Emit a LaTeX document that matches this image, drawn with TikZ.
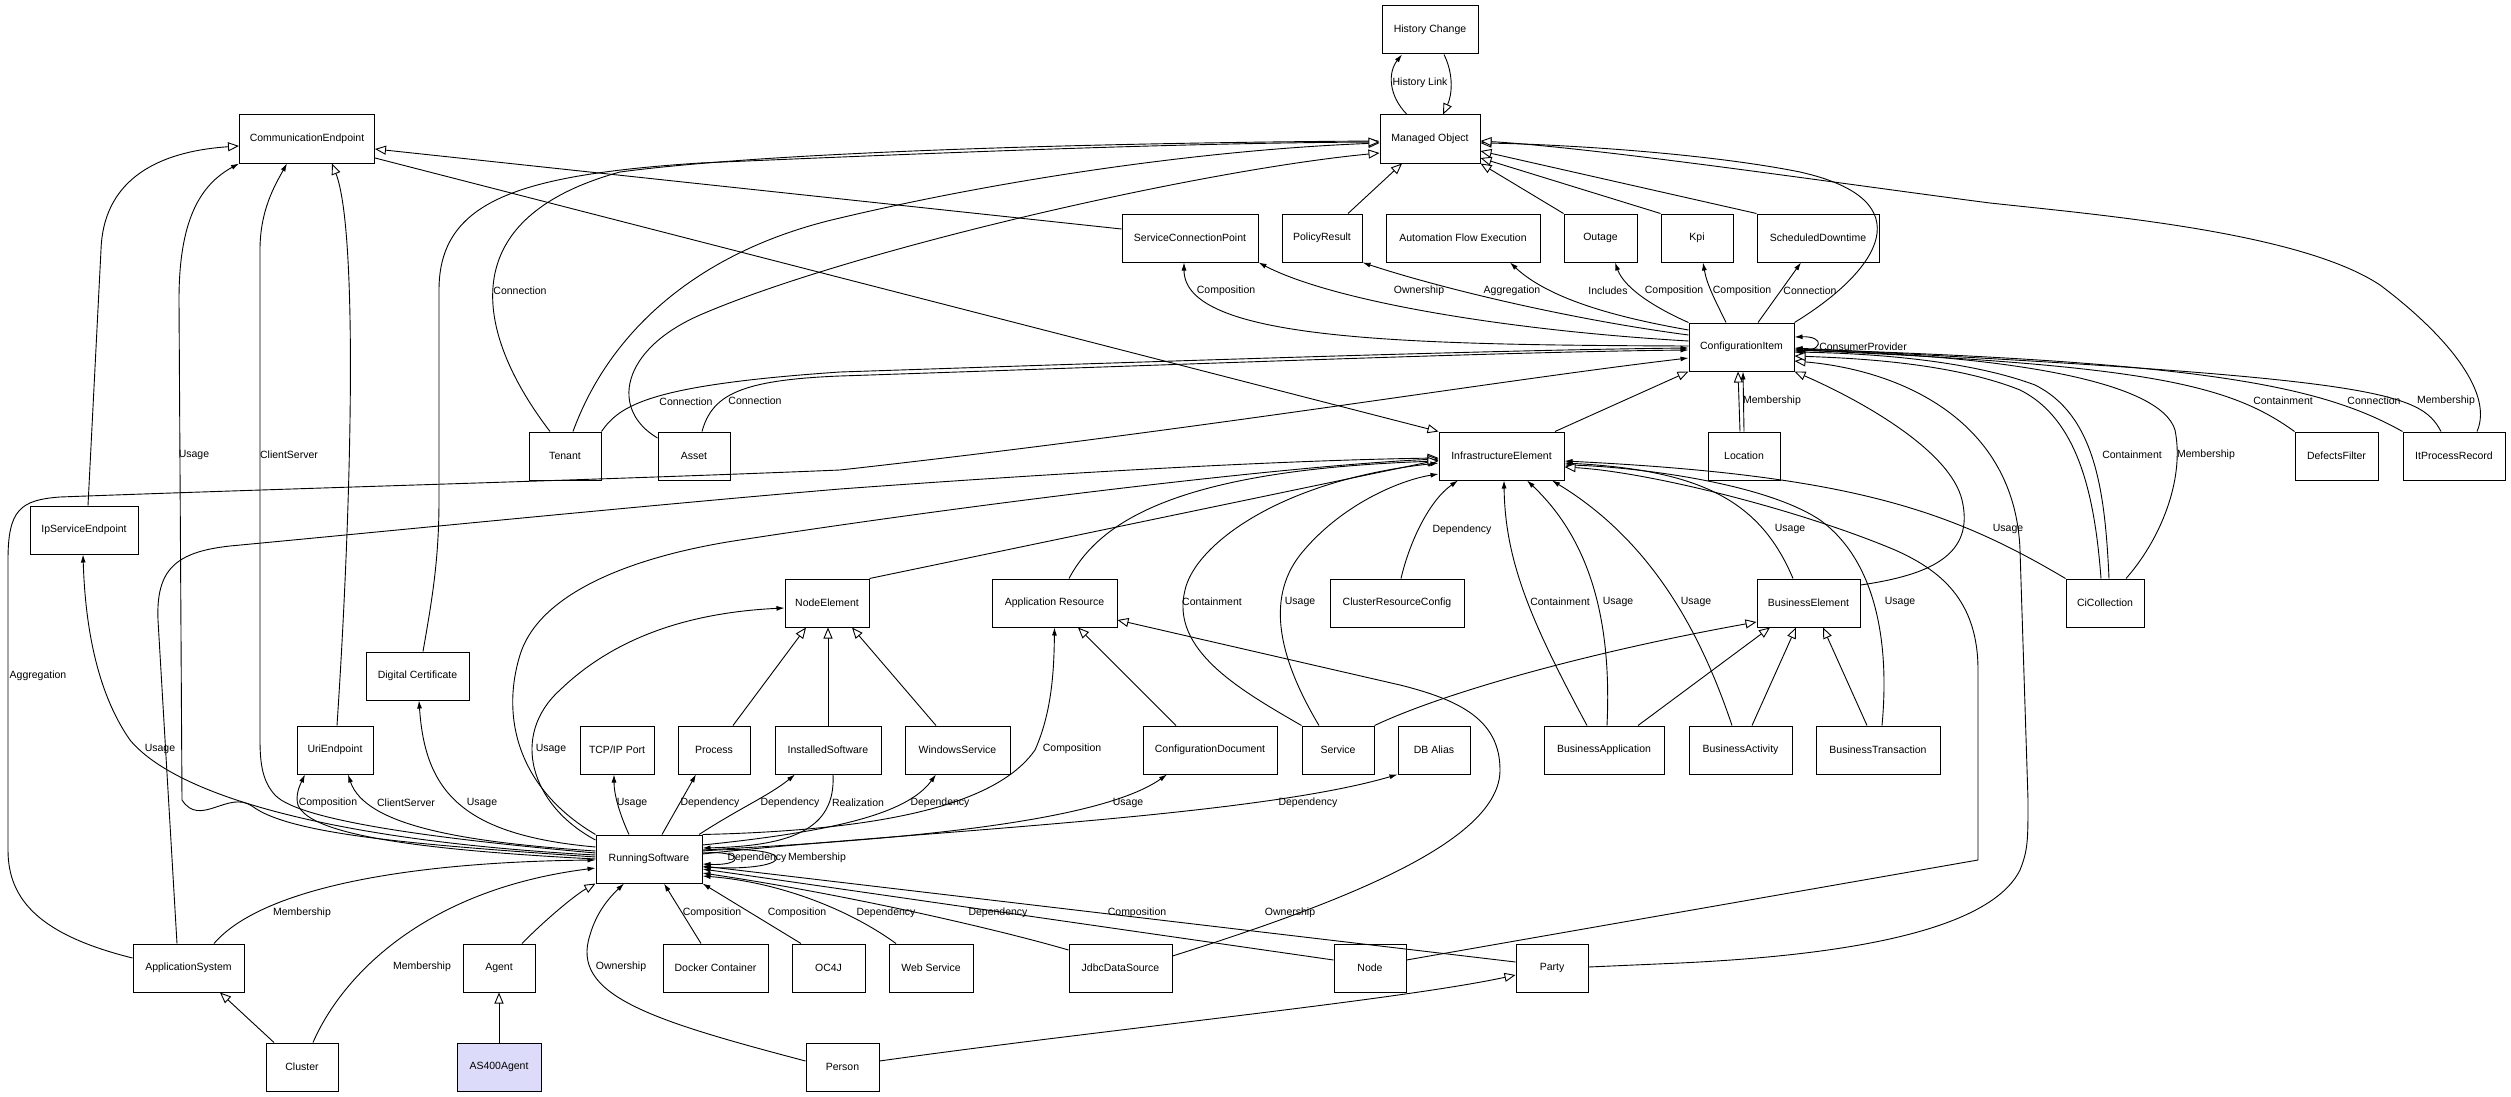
\documentclass[tikz,border=0pt]{standalone}
\usepackage{fontspec}
\setmainfont{Liberation Sans}
\usetikzlibrary{arrows.meta}
\definecolor{lav}{RGB}{220,220,250}
\newcommand\dgfont{\fontsize{10.5}{12}\selectfont}
\begin{document}
\begin{tikzpicture}[x=1pt,y=-1pt,
  box/.style={draw,line width=1pt,minimum height=48pt,inner sep=0pt,font=\dgfont,fill=white},
  isa/.style={line width=0.9pt,-{Triangle[fill=white,length=11pt,width=9pt]}},
  assoc/.style={line width=0.9pt,-{Latex[length=8pt,width=5pt]}},
  lbl/.style={font=\dgfont,inner sep=0pt}]
\useasboundingbox (0,0) rectangle (2511,1097);
\fill[white] (0,0) rectangle (2511,1097);
% nodes
\node[box,minimum width=96pt] (hc) at (1430,30) {History Change};
\node[box,minimum width=100pt] (mo) at (1430,139) {Managed Object};
\node[box,minimum width=135pt] (ce) at (307,139) {CommunicationEndpoint};
\node[box,minimum width=136pt] (scp) at (1190,238) {ServiceConnectionPoint};
\node[box,minimum width=80pt] (pr) at (1322,238) {PolicyResult};
\node[box,minimum width=154pt] (afe) at (1463,238) {Automation Flow Execution};
\node[box,minimum width=73pt] (out) at (1600.5,238) {Outage};
\node[box,minimum width=72pt] (kpi) at (1697,238) {Kpi};
\node[box,minimum width=122pt] (sd) at (1818,238) {ScheduledDowntime};
\node[box,minimum width=105pt] (ci) at (1741.5,347) {ConfigurationItem};
\node[box,minimum width=72pt] (ten) at (565,456) {Tenant};
\node[box,minimum width=72pt] (ast) at (694,456) {Asset};
\node[box,minimum width=125pt] (ie) at (1501.5,456) {InfrastructureElement};
\node[box,minimum width=72pt] (loc) at (1744,456) {Location};
\node[box,minimum width=83pt] (df) at (2336.5,456) {DefectsFilter};
\node[box,minimum width=102pt] (ipr) at (2454,456) {ItProcessRecord};
\node[box,minimum width=108pt] (ipse) at (84,530) {IpServiceEndpoint};
\node[box,minimum width=84pt] (ne) at (827,603) {NodeElement};
\node[box,minimum width=125pt] (ar) at (1054.5,603) {Application Resource};
\node[box,minimum width=134pt] (crc) at (1397,603) {ClusterResourceConfig};
\node[box,minimum width=103pt] (be) at (1808.5,603) {BusinessElement};
\node[box,minimum width=78pt] (cic) at (2105,603) {CiCollection};
\node[box,minimum width=103pt] (dc) at (417.5,676) {Digital Certificate};
\node[box,minimum width=76pt] (uri) at (335,750) {UriEndpoint};
\node[box,minimum width=74pt] (tcp) at (617,750) {TCP/IP Port};
\node[box,minimum width=72pt] (proc) at (714,750) {Process};
\node[box,minimum width=106pt] (is) at (828,750) {InstalledSoftware};
\node[box,minimum width=105pt] (ws) at (957.5,750) {WindowsService};
\node[box,minimum width=134pt] (cd) at (1210,750) {ConfigurationDocument};
\node[box,minimum width=72pt] (svc) at (1338,750) {Service};
\node[box,minimum width=72pt] (dba) at (1434,750) {DB Alias};
\node[box,minimum width=120pt] (ba) at (1604,750) {BusinessApplication};
\node[box,minimum width=103pt] (bact) at (1740.5,750) {BusinessActivity};
\node[box,minimum width=124pt] (bt) at (1878,750) {BusinessTransaction};
\node[box,minimum width=106pt] (rs) at (649,859) {RunningSoftware};
\node[box,minimum width=111pt] (as) at (188.5,968) {ApplicationSystem};
\node[box,minimum width=72pt] (agent) at (499,968) {Agent};
\node[box,minimum width=105pt] (dock) at (715.5,968) {Docker Container};
\node[box,minimum width=73pt] (oc4j) at (828.5,968) {OC4J};
\node[box,minimum width=84pt] (wsv) at (931,968) {Web Service};
\node[box,minimum width=103pt] (jdbc) at (1120.5,968) {JdbcDataSource};
\node[box,minimum width=72pt] (node) at (1370,968) {Node};
\node[box,minimum width=72pt] (party) at (1552,968) {Party};
\node[box,minimum width=72pt] (cl) at (302,1067) {Cluster};
\node[box,minimum width=84pt,fill=lav] (as4) at (499,1067) {AS400Agent};
\node[box,minimum width=73pt] (per) at (842.5,1067) {Person};
% History
\draw[assoc] (mo.north -| 1407,0) .. controls (1388,95) and (1388,72) .. (hc.south -| 1402,0);
\draw[isa] (hc.south -| 1444,0) .. controls (1454,75) and (1452,95) .. (mo.north -| 1443,0);
% into Managed Object
\draw[isa] (pr.north -| 1348,0) -- (mo.south -| 1402,0);
\draw[isa] (out.north west) -- (mo.south east);
\draw[isa] (kpi.north west) -- (mo.east |- 0,158);
\draw[isa] (sd.north west) -- (mo.east |- 0,151);
\draw[isa] (ci.north east) .. controls (1880,270) and (1925,200) .. (1800,172) .. controls (1700,152) and (1550,144) .. (mo.east |- 0,143);
\draw[isa] (ipr.north -| 2477,0) .. controls (2495,390) and (2440,330) .. (2380,285) .. controls (2300,232) and (2100,215) .. (1990,203) .. controls (1850,185) and (1600,148) .. (mo.east |- 0,141);
\draw[isa] (ten.north -| 573,0) .. controls (610,330) and (700,250) .. (840,218) .. controls (1000,180) and (1200,150) .. (mo.west |- 0,143);
\draw[assoc] (ten.north -| 550,0) .. controls (480,340) and (445,220) .. (620,172) .. controls (800,148) and (1200,142) .. (mo.west |- 0,141);
\draw[isa] (ast.west |- 0,438) .. controls (610,410) and (620,350) .. (700,315) .. controls (850,250) and (1200,170) .. (mo.west |- 0,153);
\draw[isa] (dc.north -| 423,0) .. controls (432,600) and (439,560) .. (439,500) -- (439,290) .. controls (439,200) and (520,175) .. (700,163) .. controls (1000,150) and (1200,143) .. (mo.west |- 0,142);
% CommunicationEndpoint
\draw[isa] (ipse.north -| 88,0) -- (101,250) .. controls (103,185) and (150,152) .. (ce.west |- 0,146);
\draw[isa] (scp.west |- 0,229) -- (ce.east |- 0,149);
\draw[isa] (ce.east |- 0,158) -- (ie.north west);
\draw[assoc] (rs.west |- 0,857) .. controls (420,845) and (290,835) .. (252,806) .. controls (228,790) and (200,828) .. (182,800) -- (179,300) .. controls (179,220) and (200,185) .. (ce.south west);
\draw[assoc] (rs.west |- 0,853) .. controls (450,840) and (300,822) .. (275,795) .. controls (263,782) and (260,765) .. (260,740) -- (260,250) .. controls (260,210) and (275,185) .. (ce.south -| 287,0);
\draw[isa] (uri.north -| 337,0) .. controls (352,500) and (358,230) .. (ce.south -| 332,0);
% CI to top row
\draw[assoc] (ci.west |- 0,346) .. controls (1400,345) and (1184,340) .. (scp.south -| 1184,0);
\draw[assoc] (ci.west |- 0,341) .. controls (1500,330) and (1330,300) .. (scp.south east);
\draw[assoc] (ci.west |- 0,335) .. controls (1560,318) and (1430,285) .. (pr.south east);
\draw[assoc] (ci.west |- 0,330) .. controls (1620,318) and (1550,300) .. (afe.south -| 1510,0);
\draw[assoc] (ci.north west) .. controls (1660,310) and (1625,290) .. (out.south -| 1615,0);
\draw[assoc] (ci.north -| 1726,0) .. controls (1715,300) and (1707,285) .. (kpi.south -| 1703,0);
\draw[assoc] (ci.north -| 1758,0) -- (sd.south -| 1801,0);
\draw[assoc] (ci.east |- 0,352) .. controls (1825,352) and (1825,336) .. (ci.east |- 0,337);
% into CI
\draw[assoc] (ten.north east) .. controls (620,405) and (650,385) .. (840,372) .. controls (1200,360) and (1500,350) .. (ci.west |- 0,348);
\draw[assoc] (ast.north -| 702,0) .. controls (712,395) and (740,380) .. (840,376) .. controls (1200,364) and (1500,352) .. (ci.west |- 0,350);
\draw[assoc] (as.west |- 0,958) .. controls (40,935) and (8,900) .. (8,850) -- (8,560) .. controls (8,510) and (20,500) .. (60,497) .. controls (300,488) and (600,480) .. (840,470) .. controls (1200,430) and (1500,380) .. (ci.west |- 0,358);
\draw[isa] (ie.north -| 1555,0) -- (ci.south west);
\draw[isa] (loc.north -| 1740,0) -- (ci.south -| 1738,0);
\draw[assoc] (loc.north -| 1744,0) -- (ci.south -| 1743,0);
\draw[isa] (be.east |- 0,585) .. controls (1930,575) and (1975,555) .. (1962,500) .. controls (1950,450) and (1860,400) .. (ci.south east);
\draw[isa] (party.east |- 0,967) -- (1680,963) .. controls (1850,955) and (1990,930) .. (2020,870) .. controls (2028,850) and (2028,840) .. (2028,800) -- (2020,550) .. controls (2015,420) and (1900,370) .. (ci.east |- 0,361);
\draw[isa] (cic.north -| 2101,0) .. controls (2095,500) and (2080,420) .. (2020,390) .. controls (1950,362) and (1850,358) .. (ci.east |- 0,356);
\draw[assoc] (cic.north -| 2109,0) .. controls (2105,490) and (2095,415) .. (2035,385) .. controls (1960,357) and (1850,353) .. (ci.east |- 0,352);
\draw[assoc] (cic.north -| 2126,0) .. controls (2160,540) and (2185,480) .. (2175,430) .. controls (2160,380) and (2000,355) .. (ci.east |- 0,350);
\draw[assoc] (df.north west) .. controls (2230,385) and (2150,365) .. (ci.east |- 0,350);
\draw[assoc] (ipr.north west) .. controls (2320,385) and (2200,362) .. (ci.east |- 0,349);
\draw[assoc] (ipr.north -| 2441,0) .. controls (2420,392) and (2380,378) .. (ci.east |- 0,348);
% into InfrastructureElement
\draw[isa] (as.north -| 177,0) -- (158,620) .. controls (156,570) and (175,552) .. (230,546) .. controls (400,530) and (650,505) .. (840,489) .. controls (1100,470) and (1300,460) .. (ie.west |- 0,458);
\draw[isa] (rs.north west) .. controls (520,790) and (500,720) .. (520,655) .. controls (540,590) and (640,555) .. (740,540) .. controls (1000,500) and (1300,465) .. (ie.west |- 0,459);
\draw[isa] (ne.north east) -- (ie.west |- 0,460);
\draw[isa] (ar.north -| 1069,0) .. controls (1100,520) and (1180,470) .. (ie.west |- 0,461);
\draw[assoc] (svc.north west) .. controls (1240,690) and (1170,650) .. (1185,590) .. controls (1195,545) and (1280,480) .. (ie.west |- 0,463);
\draw[assoc] (svc.north -| 1319,0) .. controls (1280,660) and (1265,600) .. (1300,555) .. controls (1340,505) and (1400,480) .. (ie.west |- 0,474);
\draw[assoc] (crc.north -| 1401,0) .. controls (1410,540) and (1430,500) .. (ie.south -| 1458,0);
\draw[assoc] (ba.north -| 1587,0) .. controls (1530,620) and (1505,560) .. (ie.south -| 1504,0);
\draw[assoc] (ba.north -| 1607,0) .. controls (1612,620) and (1590,540) .. (ie.south -| 1527,0);
\draw[assoc] (bact.north -| 1732,0) .. controls (1700,630) and (1650,540) .. (ie.south -| 1552,0);
\draw[assoc] (be.north -| 1793,0) .. controls (1760,500) and (1700,470) .. (ie.east |- 0,463);
\draw[assoc] (bt.north -| 1882,0) .. controls (1890,640) and (1875,560) .. (1820,520) .. controls (1760,480) and (1620,466) .. (ie.east |- 0,465);
\draw[assoc] (cic.north west) .. controls (1950,510) and (1850,475) .. (ie.east |- 0,461);
\draw[isa] (node.east |- 0,960) -- (1978,860) -- (1978,670) .. controls (1978,600) and (1940,570) .. (1895,550) .. controls (1800,510) and (1650,472) .. (ie.east |- 0,467);
% NodeElement
\draw[isa] (proc.north -| 733,0) -- (ne.south -| 806,0);
\draw[isa] (is.north -| 828,0) -- (ne.south -| 828,0);
\draw[isa] (ws.north -| 936,0) -- (ne.south -| 852,0);
\draw[assoc] (rs.west |- 0,840) .. controls (530,805) and (510,735) .. (560,690) .. controls (620,632) and (700,612) .. (ne.west |- 0,608);
% Application Resource
\draw[assoc] (rs.north east) .. controls (900,830) and (1000,800) .. (1035,750) .. controls (1052,712) and (1054,670) .. (ar.south);
\draw[isa] (cd.north -| 1176,0) -- (ar.south -| 1078,0);
\draw[isa] (jdbc.east |- 0,956) .. controls (1350,900) and (1500,840) .. (1500,770) .. controls (1500,720) and (1460,700) .. (1400,685) -- (ar.east |- 0,620);
% RunningSoftware top / right
\draw[assoc] (rs.north -| 629,0) .. controls (620,815) and (614,795) .. (tcp.south -| 614,0);
\draw[assoc] (rs.north -| 662,0) -- (proc.south -| 696,0);
\draw[assoc] (rs.north -| 699,0) .. controls (740,808) and (770,795) .. (is.south -| 795,0);
\draw[assoc] (is.south -| 833,0) .. controls (836,830) and (790,846) .. (rs.east |- 0,848);
\draw[assoc] (rs.east |- 0,845) .. controls (850,830) and (910,810) .. (ws.south -| 936,0);
\draw[assoc] (rs.east |- 0,850) .. controls (900,840) and (1100,822) .. (cd.south -| 1167,0);
\draw[assoc] (rs.east |- 0,854) .. controls (900,832) and (1250,818) .. (dba.south west);
\draw[assoc] (rs.east |- 0,853) .. controls (745,850) and (745,866) .. (rs.east |- 0,864);
\draw[assoc] (rs.east |- 0,851) .. controls (800,843) and (800,872) .. (rs.east |- 0,867);
% RunningSoftware left
\draw[assoc] (rs.west |- 0,859) .. controls (420,850) and (310,835) .. (298,805) .. controls (295,795) and (300,785) .. (uri.south -| 305,0);
\draw[assoc] (rs.west |- 0,851) .. controls (460,842) and (365,825) .. (uri.south -| 348,0);
\draw[assoc] (rs.west |- 0,847) .. controls (460,835) and (425,790) .. (dc.south -| 419,0);
\draw[assoc] (rs.west |- 0,855) .. controls (350,842) and (180,800) .. (130,740) .. controls (95,690) and (85,620) .. (ipse.south -| 83,0);
% RunningSoftware bottom
\draw[assoc] (cl.north -| 313,0) .. controls (340,980) and (420,890) .. (rs.west |- 0,868);
\draw[assoc] (as.north -| 214,0) .. controls (260,890) and (400,862) .. (rs.west |- 0,860);
\draw[isa] (agent.north -| 522,0) .. controls (545,920) and (575,895) .. (rs.south west);
\draw[assoc] (per.west |- 0,1061) .. controls (650,1020) and (570,995) .. (590,935) .. controls (597,910) and (612,895) .. (rs.south -| 624,0);
\draw[assoc] (dock.north -| 701,0) -- (rs.south -| 664,0);
\draw[assoc] (oc4j.north -| 801,0) -- (rs.south east);
\draw[assoc] (wsv.north -| 896,0) .. controls (850,910) and (780,882) .. (rs.east |- 0,876);
\draw[assoc] (jdbc.west |- 0,950) .. controls (1000,930) and (850,895) .. (rs.east |- 0,873);
\draw[assoc] (node.west |- 0,960) -- (rs.east |- 0,869);
\draw[assoc] (party.west |- 0,962) -- (rs.east |- 0,866);
% other generalizations
\draw[isa] (per.east |- 0,1061) .. controls (1100,1030) and (1400,1000) .. (party.west |- 0,975);
\draw[isa] (cl.north -| 274,0) -- (as.south -| 220,0);
\draw[isa] (as4.north) -- (agent.south);
\draw[isa] (svc.north east) .. controls (1450,690) and (1600,650) .. (be.west |- 0,622);
\draw[isa] (ba.north -| 1638,0) -- (be.south -| 1770,0);
\draw[isa] (bact.north -| 1752,0) -- (be.south -| 1796,0);
\draw[isa] (bt.north -| 1867,0) -- (be.south -| 1823,0);
% labels
\node[lbl] (l1) at (1420,83) {History Link};
\node[lbl] (l2) at (520,291) {Connection};
\node[lbl] (l3) at (194,455) {Usage};
\node[lbl] (l4) at (289,455) {ClientServer};
\node[lbl] (l5) at (1226,291) {Composition};
\node[lbl] (l6) at (1419,291) {Ownership};
\node[lbl] (l7) at (1512,291) {Aggregation};
\node[lbl] (l8) at (1608,291) {Includes};
\node[lbl] (l9) at (1674,291) {Composition};
\node[lbl] (l10) at (1742,291) {Composition};
\node[lbl] (l11) at (1810,291) {Connection};
\node[lbl] (l12) at (1863,347) {ConsumerProvider};
\node[lbl] (l13) at (686,402) {Connection};
\node[lbl] (l14) at (755,401) {Connection};
\node[lbl] (l15) at (1772,401) {Membership};
\node[lbl] (l16) at (2283,401) {Containment};
\node[lbl] (l17) at (2374,401) {Connection};
\node[lbl] (l18) at (2446,401) {Membership};
\node[lbl] (l19) at (2132,455) {Containment};
\node[lbl] (l20) at (2206,455) {Membership};
\node[lbl] (l21) at (38,676) {Aggregation};
\node[lbl] (l22) at (1462,530) {Dependency};
\node[lbl] (l23) at (1790,529) {Usage};
\node[lbl] (l24) at (2008,529) {Usage};
\node[lbl] (l25) at (1212,602) {Containment};
\node[lbl] (l26) at (1300,602) {Usage};
\node[lbl] (l27) at (1560,602) {Containment};
\node[lbl] (l28) at (1618,602) {Usage};
\node[lbl] (l29) at (1696,602) {Usage};
\node[lbl] (l30) at (1900,602) {Usage};
\node[lbl] (l31) at (1072,749) {Composition};
\node[lbl] (l32) at (551,749) {Usage};
\node[lbl] (l33) at (160,749) {Usage};
\node[lbl] (l34) at (632,803) {Usage};
\node[lbl] (l35) at (710,803) {Dependency};
\node[lbl] (l36) at (790,803) {Dependency};
\node[lbl] (l37) at (858,803) {Realization};
\node[lbl] (l38) at (940,803) {Dependency};
\node[lbl] (l39) at (1128,803) {Usage};
\node[lbl] (l40) at (1308,803) {Dependency};
\node[lbl] (l41) at (328,803) {Composition};
\node[lbl] (l42) at (406,803) {ClientServer};
\node[lbl] (l43) at (482,803) {Usage};
\node[lbl] (l44) at (757,858) {Dependency};
\node[lbl] (l45) at (817,858) {Membership};
\node[lbl] (l46) at (302,913) {Membership};
\node[lbl] (l47) at (712,913) {Composition};
\node[lbl] (l48) at (797,913) {Composition};
\node[lbl] (l49) at (886,913) {Dependency};
\node[lbl] (l50) at (998,913) {Dependency};
\node[lbl] (l51) at (1137,913) {Composition};
\node[lbl] (l52) at (1290,913) {Ownership};
\node[lbl] (l53) at (422,967) {Membership};
\node[lbl] (l54) at (621,967) {Ownership};
\end{tikzpicture}
\end{document}
